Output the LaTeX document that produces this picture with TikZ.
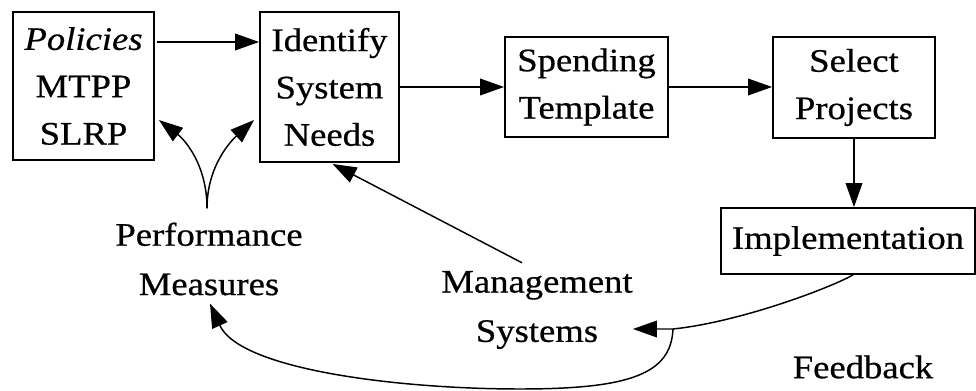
\documentclass[tikz,border=0pt]{standalone}
\usepackage{fontspec}
\setmainfont{Liberation Serif}[FakeStretch=1.117,FakeBold=0.6]
\usepackage{tikz}
\usetikzlibrary{arrows.meta,calc}

\begin{document}
\begin{tikzpicture}[x=0.75pt,y=0.75pt,yscale=-1,xscale=1,
  box/.style={draw, line width=1.4pt, align=center, inner sep=0pt, font=\fontsize{24.6pt}{35.5pt}\selectfont},
  lbl/.style={align=center, inner sep=0pt, font=\fontsize{24.6pt}{37pt}\selectfont},
  arr/.style={line width=1.1pt, -{Triangle[length=18pt,width=12.5pt]}}]
\useasboundingbox (0,0) rectangle (976,391);

%Shape: Rectangle
\node[box, minimum width=105.75pt, minimum height=111pt] (pol) at (83.5,86) {\textit{Policies}\\MTPP\\SLRP};
%Shape: Rectangle
\node[box, minimum width=104.25pt, minimum height=112.5pt] (ident) at (329.5,87) {Identify\\System\\Needs};
%Shape: Rectangle
\node[box, minimum width=122.25pt, minimum height=75pt] (spend) at (586.5,87) {Spending\\Template};
%Shape: Rectangle
\node[box, minimum width=121.5pt, minimum height=75.75pt] (sel) at (854,87.5) {Select\\Projects};
%Shape: Rectangle
\node[box, minimum width=190.5pt, minimum height=49.5pt] (impl) at (848,241) {Implementation};

%Text
\node[lbl] (perf) at (209,259) {Performance\\Measures};
%Text
\node[lbl] (mgmt) at (537,310) {Management\\Systems};
%Text
\node[lbl] (fdbk) at (863,367) {Feedback};

%Straight Lines
\draw[arr] ($(pol.east)+(2,-44)$) -- ($(ident.west)+(0,-45)$);
%Straight Lines
\draw[arr] (ident.east) -- (ident.east -| spend.west);
%Straight Lines
\draw[arr] (spend.east) -- (spend.east -| sel.west);
%Straight Lines
\draw[arr] (sel.south) -- (sel.south |- impl.north);
%Straight Lines
\draw[arr] ($(mgmt.north)+(-15,-8)$) -- ($(ident.south)+(3,1)$);

%Curve Lines
\coordinate (fb) at (673,329);
\draw[arr] ($(impl.south)+(5,0)$) .. controls (830,288) and (740,322) .. (fb) -- (mgmt.east |- fb);
%Curve Lines
\draw[arr] (fb) .. controls (671,374) and (630,389) .. (520,389) .. controls (400,389) and (240,370) .. ($(perf.south)+(1,8)$);

%Curve Lines
\coordinate (fork) at ($(perf.north)+(-2,-14)$);
\draw[arr] (fork) .. controls (207,165) and (185,140) .. ($(pol.east)+(4,34)$);
\draw[arr] (fork) .. controls (207,165) and (232,140) .. ($(ident.west)+(-5,33)$);

\end{tikzpicture}
\end{document}
